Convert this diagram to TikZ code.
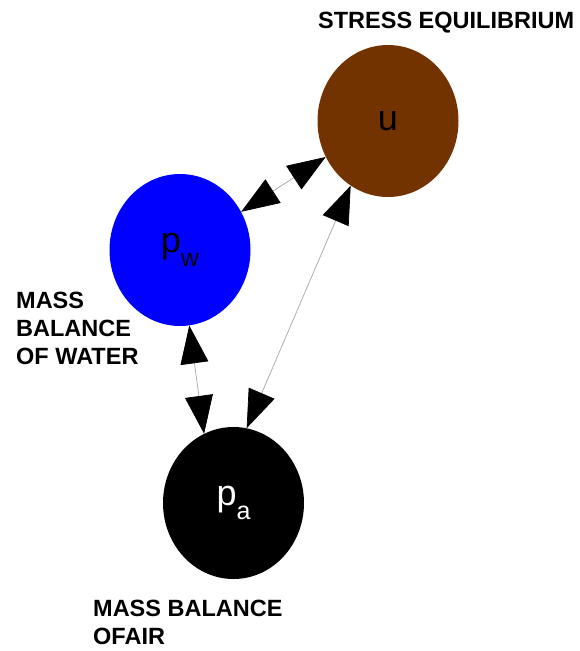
\documentclass[tikz,border=0pt]{standalone}
\usepackage{fontspec}
\setmainfont{Liberation Sans}
\usepackage{xcolor}
\usetikzlibrary{arrows.meta,shapes.geometric}
\definecolor{soilbrown}{RGB}{115,51,0}

\begin{document}
\begin{tikzpicture}[x=1pt, y=-1pt,
	var/.style={ellipse, minimum width=141pt, minimum height=152pt, inner sep=0pt, font=\fontsize{36}{36}\selectfont},
	link/.style={{Triangle[length=38pt,width=28pt,black]}-{Triangle[length=38pt,width=28pt,black]}, draw=gray!70, line width=0.7pt},
	eqn/.style={font=\fontsize{23.5}{28}\selectfont\bfseries, align=left, inner sep=0pt, anchor=north west}]
	
	\useasboundingbox (0,0) rectangle (579,651);
	
	% unknowns
	\node[var, fill=soilbrown] (u) at (388,121) {u};
	\node[var, fill=blue] (pw) at (180,250) {p\raisebox{-14pt}{\fontsize{25}{25}\selectfont w}};
	\node[var, fill=black, text=white] (pa) at (233.5,503) {p\raisebox{-14pt}{\fontsize{25}{25}\selectfont a}};
	
	% coupling
	\draw[link] (pw.32) -- (u.210);
	\draw[link] (pw.-83) -- (pa.113);
	\draw[link] (u.240) -- (pa.80);
	
	% equations
	\node[eqn] (stress) at (318,12) {STRESS EQUILIBRIUM};
	\node[eqn] (water) at (16,292) {MASS\\BALANCE\\OF WATER};
	\node[eqn] (air) at (93,600) {MASS BALANCE\\OFAIR};
\end{tikzpicture}
\end{document}
